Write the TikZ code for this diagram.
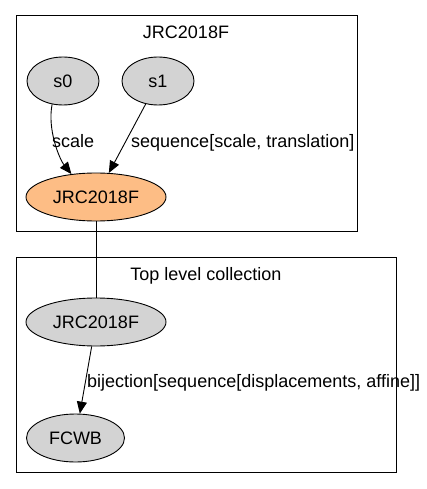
\documentclass[tikz,border=0pt]{standalone}
\usepackage{fontspec}
\setmainfont{Liberation Sans}
\usetikzlibrary{shapes.geometric,arrows.meta}
\definecolor{nodegray}{RGB}{211,211,211}
\definecolor{nodeorange}{RGB}{253,189,133}
\begin{document}
\begin{tikzpicture}[x=1pt,y=-1pt,
  font=\fontsize{18}{21}\selectfont,
  gnode/.style={ellipse,draw,line width=0.9pt,fill=nodegray,minimum height=48pt,inner sep=0pt},
  onode/.style={gnode,fill=nodeorange},
  cluster/.style={draw,line width=1pt},
  lbl/.style={anchor=base west,inner sep=0pt},
  ttl/.style={anchor=base,inner sep=0pt},
  arr/.style={line width=0.9pt,-{Triangle[length=12pt,width=10pt]}},
  plain/.style={line width=0.9pt}]
\useasboundingbox (0,0) rectangle (427,489);
% clusters
\draw[cluster] (16,15.5) rectangle (357,231.5);
\draw[cluster] (16,257) rectangle (396,472);
\node[ttl] (t1) at (186,39) {JRC2018F};
\node[ttl] (t2) at (206,280) {Top level collection};
% nodes
\node[gnode,minimum width=72pt] (s0) at (63,81) {s0};
\node[gnode,minimum width=72pt] (s1) at (158,81) {s1};
\node[onode,minimum width=140pt] (jrc1) at (96,197) {JRC2018F};
\node[gnode,minimum width=140pt] (jrc2) at (96,322) {JRC2018F};
\node[gnode,minimum width=98pt] (fcwb) at (75.5,438) {FCWB};
% edges
\draw[arr] (s0.245) .. controls +(-5,25) and +(-12,-15) .. (jrc1.137);
\draw[arr] (s1) -- (jrc1);
\draw[plain] (jrc1) -- (jrc2);
\draw[arr] (jrc2) -- (fcwb);
% labels
\node[lbl] (l1) at (52,147) {scale};
\node[lbl] (l2) at (131,147) {sequence[scale, translation]};
\node[lbl] (l3) at (87,387) {bijection[sequence[displacements, affine]]};
\end{tikzpicture}
\end{document}
